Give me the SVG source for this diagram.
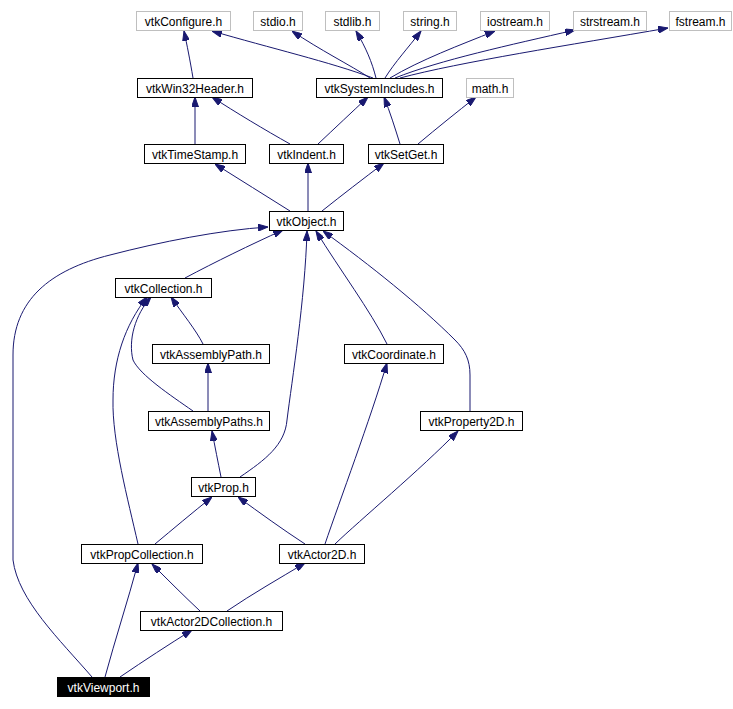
<svg xmlns="http://www.w3.org/2000/svg" width="733" height="709" viewBox="0 0 733 709">
<style>
.n rect{fill:#fff;stroke:#000;stroke-width:1}
.g rect{stroke:#bfbfbf}
.n text{font-family:"Liberation Sans",Arial,sans-serif;font-size:12px;text-anchor:middle;fill:#000}
.v rect{fill:#000}
.v text{fill:#fff}
#edges path{fill:none;stroke:#191970;stroke-width:1;marker-end:url(#ah)}
</style>
<defs>
<marker id="ah" viewBox="0 0 10 7" refX="10" refY="3.5" markerWidth="10" markerHeight="7" markerUnits="userSpaceOnUse" orient="auto">
<path d="M0,0 L10,3.5 L0,7 z" fill="#191970" stroke="#191970" stroke-width="1"/>
</marker>
</defs>
<rect width="733" height="709" fill="#fff"/>
<g id="edges">
<path d="M193,78 C190,60 187,45 184,31"/>
<path d="M373,78 C330,62 270,48 212,31"/>
<path d="M370,78 C350,65 320,50 292,31"/>
<path d="M376,78 C372,62 366,48 356,31"/>
<path d="M385,78 C395,62 408,48 421,31"/>
<path d="M390,78 C420,60 460,45 495,31"/>
<path d="M395,78 C440,60 510,45 575,30"/>
<path d="M400,78 C460,62 570,45 668,28"/>
<path d="M195,144 L195,97"/>
<path d="M290,144 C265,130 235,112 212,97"/>
<path d="M318,144 C335,128 352,112 368,97"/>
<path d="M400,144 C395,128 390,112 384,97"/>
<path d="M418,144 C437,128 457,112 476,97"/>
<path d="M290,211 C265,195 240,180 215,164"/>
<path d="M308,211 L308,163"/>
<path d="M322,211 C342,195 363,179 384,163"/>
<path d="M185,278 C215,262 250,245 283,230"/>
<path d="M92,677 C60,640 18,600 13,560 L13,355 C13,300 50,270 110,255 C160,242 220,230 268,227"/>
<path d="M240,477 C265,460 285,445 287,420 C292,380 305,300 307,231"/>
<path d="M387,344 C370,310 340,270 316,231"/>
<path d="M470,411 L470,375 C470,360 465,350 455,340 C420,305 370,265 323,231"/>
<path d="M203,344 C196,330 182,313 171,297"/>
<path d="M193,411 C170,395 140,375 133,360 C128,340 135,315 151,297"/>
<path d="M138,544 C128,500 112,440 113,400 C113,360 125,325 147,297"/>
<path d="M208,411 L208,363"/>
<path d="M221,477 C218,462 215,447 212,431"/>
<path d="M155,544 C173,529 192,513 212,497"/>
<path d="M305,544 C282,529 260,513 238,497"/>
<path d="M325,544 C340,500 370,420 387,363"/>
<path d="M335,544 C360,520 420,470 458,431"/>
<path d="M200,611 C184,596 168,580 152,564"/>
<path d="M227,611 C252,594 280,578 305,563"/>
<path d="M105,677 C115,640 128,600 138,563"/>
<path d="M120,677 C145,660 168,645 192,630"/>
</g>
<g id="vtkConfigure" class="n g"><rect x="136.5" y="11.5" width="94" height="19"/><text x="183.5" y="25.5">vtkConfigure.h</text></g>
<g id="stdio" class="n g"><rect x="253.5" y="11.5" width="49" height="19"/><text x="278" y="25.5">stdio.h</text></g>
<g id="stdlib" class="n g"><rect x="325.5" y="11.5" width="54" height="19"/><text x="352.5" y="25.5">stdlib.h</text></g>
<g id="string" class="n g"><rect x="403.5" y="11.5" width="53" height="19"/><text x="430" y="25.5">string.h</text></g>
<g id="iostream" class="n g"><rect x="480.5" y="11.5" width="69" height="19"/><text x="515" y="25.5">iostream.h</text></g>
<g id="strstream" class="n g"><rect x="573.5" y="11.5" width="73" height="19"/><text x="610" y="25.5">strstream.h</text></g>
<g id="fstream" class="n g"><rect x="669.5" y="11.5" width="62" height="19"/><text x="700.5" y="25.5">fstream.h</text></g>
<g id="vtkWin32Header" class="n"><rect x="137.5" y="78.5" width="115" height="19"/><text x="195" y="92.5">vtkWin32Header.h</text></g>
<g id="vtkSystemIncludes" class="n"><rect x="316.5" y="78.5" width="126" height="19"/><text x="379.5" y="92.5">vtkSystemIncludes.h</text></g>
<g id="math" class="n g"><rect x="466.5" y="78.5" width="47" height="19"/><text x="490" y="92.5">math.h</text></g>
<g id="vtkTimeStamp" class="n"><rect x="144.5" y="144.5" width="101" height="19"/><text x="195" y="158.5">vtkTimeStamp.h</text></g>
<g id="vtkIndent" class="n"><rect x="269.5" y="144.5" width="74" height="19"/><text x="306.5" y="158.5">vtkIndent.h</text></g>
<g id="vtkSetGet" class="n"><rect x="368.5" y="144.5" width="75" height="19"/><text x="406" y="158.5">vtkSetGet.h</text></g>
<g id="vtkObject" class="n"><rect x="269.5" y="211.5" width="74" height="19"/><text x="306.5" y="225.5">vtkObject.h</text></g>
<g id="vtkCollection" class="n"><rect x="115.5" y="278.5" width="96" height="19"/><text x="163.5" y="292.5">vtkCollection.h</text></g>
<g id="vtkAssemblyPath" class="n"><rect x="152.5" y="344.5" width="117" height="19"/><text x="211" y="358.5">vtkAssemblyPath.h</text></g>
<g id="vtkCoordinate" class="n"><rect x="344.5" y="344.5" width="99" height="19"/><text x="394" y="358.5">vtkCoordinate.h</text></g>
<g id="vtkAssemblyPaths" class="n"><rect x="148.5" y="411.5" width="121" height="19"/><text x="209" y="425.5">vtkAssemblyPaths.h</text></g>
<g id="vtkProperty2D" class="n"><rect x="420.5" y="411.5" width="102" height="19"/><text x="471.5" y="425.5">vtkProperty2D.h</text></g>
<g id="vtkProp" class="n"><rect x="191.5" y="477.5" width="64" height="19"/><text x="223.5" y="491.5">vtkProp.h</text></g>
<g id="vtkPropCollection" class="n"><rect x="81.5" y="544.5" width="121" height="19"/><text x="142" y="558.5">vtkPropCollection.h</text></g>
<g id="vtkActor2D" class="n"><rect x="279.5" y="544.5" width="85" height="19"/><text x="322" y="558.5">vtkActor2D.h</text></g>
<g id="vtkActor2DCollection" class="n"><rect x="140.5" y="611.5" width="142" height="19"/><text x="211.5" y="625.5">vtkActor2DCollection.h</text></g>
<g id="vtkViewport" class="n v"><rect x="57.5" y="677.5" width="92" height="19"/><text x="103.5" y="691.5">vtkViewport.h</text></g>
</svg>
